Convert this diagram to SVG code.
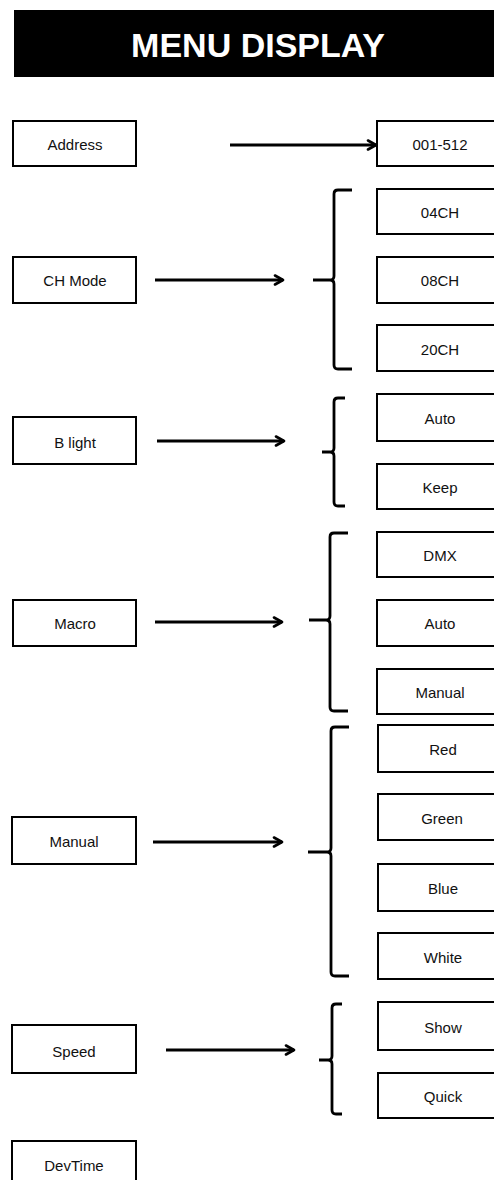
<svg xmlns="http://www.w3.org/2000/svg" width="494" height="1180" viewBox="0 0 494 1180">
<defs>
<marker id="ah" viewBox="0 0 12 12" refX="10" refY="6" markerWidth="12" markerHeight="12" markerUnits="userSpaceOnUse" orient="auto">
<path d="M2,1.5 L10,6 L2,10.5" fill="none" stroke="#000" stroke-width="2.6" stroke-linecap="round" stroke-linejoin="round"/>
</marker>
</defs>
<style>
.box{fill:#fff;stroke:#000;stroke-width:2}
.t{font-family:"Liberation Sans",Arial,sans-serif;font-size:15px;fill:#111;text-anchor:middle}
.ar{fill:none;stroke:#000;stroke-width:2.8;marker-end:url(#ah)}
.br{fill:none;stroke:#000;stroke-width:2.8;stroke-linecap:butt;stroke-linejoin:round}
</style>
<rect width="494" height="1180" fill="#fff"/>
<g id="title">
<rect x="14" y="10" width="490" height="67" fill="#000"/>
<text x="258" y="57" font-family="'Liberation Sans',Arial,sans-serif" font-size="34" font-weight="bold" fill="#fff" text-anchor="middle">MENU DISPLAY</text>
</g>
<g id="n-address"><rect class="box" x="13" y="121" width="123" height="45"/><text class="t" x="75" y="150">Address</text></g>
<g id="n-001512"><rect class="box" x="377" y="121" width="130" height="45"/><text class="t" x="440" y="150">001-512</text></g>
<g id="n-chmode"><rect class="box" x="13" y="257" width="123" height="46"/><text class="t" x="75" y="286">CH Mode</text></g>
<g id="n-04ch"><rect class="box" x="377" y="189" width="130" height="45"/><text class="t" x="440" y="218">04CH</text></g>
<g id="n-08ch"><rect class="box" x="377" y="257" width="130" height="46"/><text class="t" x="440" y="286">08CH</text></g>
<g id="n-20ch"><rect class="box" x="377" y="325" width="130" height="46"/><text class="t" x="440" y="355">20CH</text></g>
<g id="n-blight"><rect class="box" x="13" y="417" width="123" height="47"/><text class="t" x="75" y="448">B light</text></g>
<g id="n-auto1"><rect class="box" x="377" y="394" width="130" height="47"/><text class="t" x="440" y="424">Auto</text></g>
<g id="n-keep"><rect class="box" x="377" y="464" width="130" height="45"/><text class="t" x="440" y="493">Keep</text></g>
<g id="n-macro"><rect class="box" x="13" y="600" width="123" height="46"/><text class="t" x="75" y="629">Macro</text></g>
<g id="n-dmx"><rect class="box" x="377" y="532" width="130" height="45"/><text class="t" x="440" y="561">DMX</text></g>
<g id="n-auto2"><rect class="box" x="377" y="600" width="130" height="46"/><text class="t" x="440" y="629">Auto</text></g>
<g id="n-manual2"><rect class="box" x="377" y="669" width="130" height="45"/><text class="t" x="440" y="698">Manual</text></g>
<g id="n-manual"><rect class="box" x="12" y="817" width="124" height="47"/><text class="t" x="74" y="847">Manual</text></g>
<g id="n-red"><rect class="box" x="378" y="725" width="130" height="47"/><text class="t" x="443" y="755">Red</text></g>
<g id="n-green"><rect class="box" x="378" y="794" width="130" height="46"/><text class="t" x="442" y="824">Green</text></g>
<g id="n-blue"><rect class="box" x="378" y="864" width="130" height="47"/><text class="t" x="443" y="894">Blue</text></g>
<g id="n-white"><rect class="box" x="378" y="933" width="130" height="46"/><text class="t" x="443" y="963">White</text></g>
<g id="n-speed"><rect class="box" x="12" y="1025" width="124" height="48"/><text class="t" x="74" y="1057">Speed</text></g>
<g id="n-show"><rect class="box" x="378" y="1002" width="130" height="48"/><text class="t" x="443" y="1033">Show</text></g>
<g id="n-quick"><rect class="box" x="378" y="1073" width="130" height="45"/><text class="t" x="443" y="1102">Quick</text></g>
<g id="n-devtime"><rect class="box" x="12" y="1141" width="124" height="50"/><text class="t" x="74" y="1171">DevTime</text></g>
<g id="connectors">
<line class="ar" x1="230" y1="145" x2="376" y2="145"/>
<line class="ar" x1="155" y1="280" x2="283" y2="280"/>
<line class="ar" x1="157" y1="441" x2="284" y2="441"/>
<line class="ar" x1="155" y1="622" x2="282" y2="622"/>
<line class="ar" x1="153" y1="842" x2="282" y2="842"/>
<line class="ar" x1="166" y1="1050" x2="294" y2="1050"/>
<path class="br" d="M352,190 L338,190 Q334,190 334,194 L334,276 Q334,280 330,280 L313,280 M330,280 Q334,280 334,284 L334,365 Q334,369 338,369 L352,369"/>
<path class="br" d="M345,398 L338,398 Q334,398 334,402 L334,448 Q334,452 330,452 L322,452 M330,452 Q334,452 334,456 L334,502 Q334,506 338,506 L345,506"/>
<path class="br" d="M348,533 L334,533 Q330,533 330,537 L330,616 Q330,620 326,620 L309,620 M326,620 Q330,620 330,624 L330,707 Q330,711 334,711 L348,711"/>
<path class="br" d="M349,727 L335,727 Q331,727 331,731 L331,848 Q331,852 327,852 L308,852 M327,852 Q331,852 331,856 L331,972 Q331,976 335,976 L349,976"/>
<path class="br" d="M342,1004 L336,1004 Q332,1004 332,1008 L332,1056 Q332,1060 328,1060 L319,1060 M328,1060 Q332,1060 332,1064 L332,1110 Q332,1114 336,1114 L342,1114"/>
</g>
</svg>
